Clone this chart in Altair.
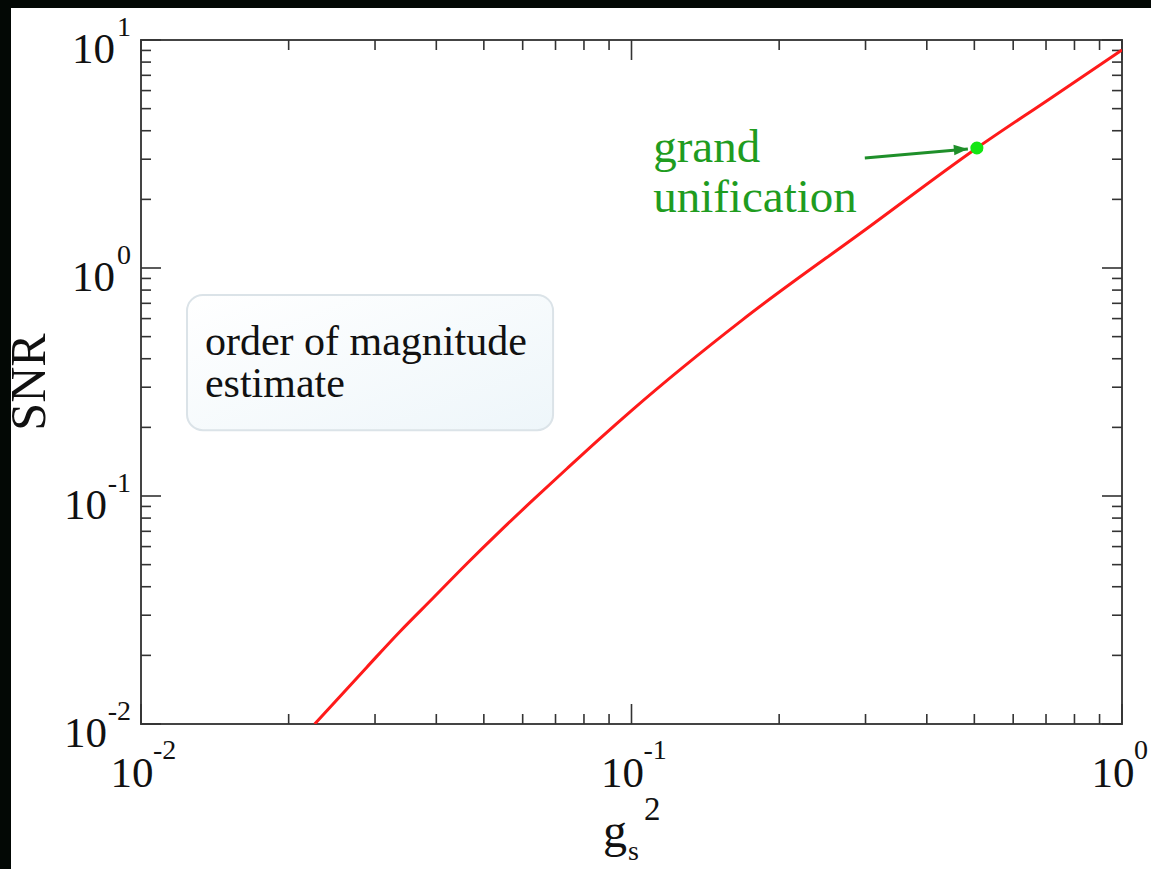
import altair as alt
import pandas as pd

# ---- data ----
g_vals = [0.0226, 0.0289, 0.0337, 0.0394, 0.0462, 0.0539, 0.063, 0.0739, 0.0863,
          0.1, 0.1686, 0.302, 0.506, 0.713, 1.0]
snr_vals = [0.01, 0.0178, 0.0254, 0.0357, 0.0506, 0.070, 0.0961, 0.132, 0.179,
            0.237, 0.594, 1.49, 3.36, 5.53, 9.05]

gut_g = [0.506]
gut_snr = [3.36]

arrow_g = [0.299, 0.485]
arrow_snr = [3.04, 3.33]

gut_label_g = [0.1107]
gut_label_snr = [2.92]
gut_label_text = ["grand\nunification"]

box_g = [0.01241]
box_g2 = [0.0692]
box_snr = [0.762]
box_snr2 = [0.1945]
box_text_g = [0.0135]
box_text_snr = [0.4154]
box_text = ["order of magnitude\nestimate"]

x_major = [0.01, 0.1, 1.0]
x_exp = ["-2", "-1", "0"]
x_minor = [m * d for d in (0.01, 0.1) for m in range(2, 10)]

y_major = [0.01, 0.1, 1.0, 10.0]
y_exp = ["-2", "-1", "0", "1"]
y_minor = [m * d for d in (0.01, 0.1, 1.0) for m in range(2, 10)]

W, H = 981, 684
FONT = "Liberation Serif"
TICK = "#333333"

xs = alt.Scale(type="log", domain=[0.01, 1.0], nice=False)
ys = alt.Scale(type="log", domain=[0.01, 10.0], nice=False)


def X(f):
    return alt.X(f, type="quantitative", scale=xs, axis=None)


def Y(f):
    return alt.Y(f, type="quantitative", scale=ys, axis=None)


curve_df = pd.DataFrame({"g": g_vals, "snr": snr_vals})
gut_df = pd.DataFrame({"g": gut_g, "snr": gut_snr})
arrow_df = pd.DataFrame({"g": arrow_g, "snr": arrow_snr, "o": [0, 1]})
head_df = pd.DataFrame({"g": arrow_g[-1:], "snr": arrow_snr[-1:]})
gl_df = pd.DataFrame({"g": gut_label_g, "snr": gut_label_snr, "t": gut_label_text})
box_df = pd.DataFrame({"g": box_g, "g2": box_g2, "snr": box_snr, "snr2": box_snr2})
bt_df = pd.DataFrame({"g": box_text_g, "snr": box_text_snr, "t": box_text})
xmaj_df = pd.DataFrame({"v": x_major, "exp": x_exp})
xmin_df = pd.DataFrame({"v": x_minor})
ymaj_df = pd.DataFrame({"v": y_major, "exp": y_exp})
ymin_df = pd.DataFrame({"v": y_minor})

layers = []

# decorative dark borders of the screenshot
layers.append(alt.Chart(pd.DataFrame({"a": [0]})).mark_rect(color="#030805").encode(
    x=alt.value(-141), x2=alt.value(-130), y=alt.value(-40), y2=alt.value(H + 145)))
layers.append(alt.Chart(pd.DataFrame({"a": [0]})).mark_rect(color="#030805").encode(
    x=alt.value(-141), x2=alt.value(W + 29), y=alt.value(-40), y2=alt.value(-32)))

# ticks (inward, mirrored)
for df, ln in ((xmaj_df, 20), (xmin_df, 10)):
    layers.append(alt.Chart(df).mark_rule(color=TICK, strokeWidth=1.6).encode(
        x=X("v"), y=alt.value(H - ln), y2=alt.value(H)))
    layers.append(alt.Chart(df).mark_rule(color=TICK, strokeWidth=1.6).encode(
        x=X("v"), y=alt.value(0), y2=alt.value(ln)))
for df, ln in ((ymaj_df, 20), (ymin_df, 10)):
    layers.append(alt.Chart(df).mark_rule(color=TICK, strokeWidth=1.6).encode(
        y=Y("v"), x=alt.value(0), x2=alt.value(ln)))
    layers.append(alt.Chart(df).mark_rule(color=TICK, strokeWidth=1.6).encode(
        y=Y("v"), x=alt.value(W - ln), x2=alt.value(W)))

# tick labels: x
layers.append(alt.Chart(xmaj_df).mark_text(
    font=FONT, fontSize=43, align="center", baseline="alphabetic", dx=-9, color="#111").encode(
    x=X("v"), y=alt.value(H + 63), text=alt.value("10")))
layers.append(alt.Chart(xmaj_df).mark_text(
    font=FONT, fontSize=28, align="left", baseline="alphabetic", dx=12, color="#111").encode(
    x=X("v"), y=alt.value(H + 35), text="exp:N"))

# tick labels: y
layers.append(alt.Chart(ymaj_df).mark_text(
    font=FONT, fontSize=28, align="right", baseline="alphabetic", dy=-4, color="#111").encode(
    y=Y("v"), x=alt.value(-10), text="exp:N"))
layers.append(alt.Chart(ymaj_df).transform_filter("length(datum.exp) == 1").mark_text(
    font=FONT, fontSize=43, align="right", baseline="alphabetic", dy=23, color="#111").encode(
    y=Y("v"), x=alt.value(-10 - 15 - 1), text=alt.value("10")))
layers.append(alt.Chart(ymaj_df).transform_filter("length(datum.exp) == 2").mark_text(
    font=FONT, fontSize=43, align="right", baseline="alphabetic", dy=23, color="#111").encode(
    y=Y("v"), x=alt.value(-10 - 23 - 1), text=alt.value("10")))

# axis titles
one = pd.DataFrame({"a": [0]})
layers.append(alt.Chart(one).mark_text(
    font=FONT, fontSize=50, angle=270, align="center", baseline="middle", color="#111").encode(
    x=alt.value(-111), y=alt.value(H / 2), text=alt.value("SNR")))
layers.append(alt.Chart(one).mark_text(
    font=FONT, fontSize=48, align="left", baseline="alphabetic", color="#111").encode(
    x=alt.value(462), y=alt.value(H + 123), text=alt.value("g")))
layers.append(alt.Chart(one).mark_text(
    font=FONT, fontSize=28, align="left", baseline="alphabetic", color="#111").encode(
    x=alt.value(487), y=alt.value(H + 136), text=alt.value("s")))
layers.append(alt.Chart(one).mark_text(
    font=FONT, fontSize=33, align="left", baseline="alphabetic", color="#111").encode(
    x=alt.value(503), y=alt.value(H + 96), text=alt.value("2")))

# annotation box
layers.append(alt.Chart(box_df).mark_rect(
    cornerRadius=16, stroke="#dbe3e8", strokeWidth=2,
    color=alt.Gradient(gradient="linear",
                       stops=[alt.GradientStop(color="#ffffff", offset=0),
                              alt.GradientStop(color="#eef6fa", offset=1)],
                       x1=0, x2=1, y1=0, y2=1)).encode(
    x=X("g"), x2="g2", y=Y("snr"), y2="snr2"))
layers.append(alt.Chart(bt_df).mark_text(
    font=FONT, fontSize=42, align="left", baseline="alphabetic", lineBreak="\n",
    lineHeight=42, color="#111").encode(x=X("g"), y=Y("snr"), text="t:N"))

# curve
layers.append(alt.Chart(curve_df).mark_line(
    color="#ff1a1a", strokeWidth=3, interpolate="monotone", clip=True).encode(
    x=X("g"), y=Y("snr")))

# grand unification annotation
layers.append(alt.Chart(gl_df).mark_text(
    font=FONT, fontSize=47, align="left", baseline="alphabetic", lineBreak="\n",
    lineHeight=50, color="#1f9c1f").encode(x=X("g"), y=Y("snr"), text="t:N"))
layers.append(alt.Chart(arrow_df).mark_line(color="#1f8f2a", strokeWidth=3).encode(
    x=X("g"), y=Y("snr"), order="o:O"))
layers.append(alt.Chart(head_df).mark_point(
    shape="M-2,-0.75L0,0L-2,0.75Z", filled=True, size=196, angle=355, opacity=1,
    color="#1f8f2a").encode(x=X("g"), y=Y("snr")))
layers.append(alt.Chart(gut_df).mark_circle(size=170, opacity=1, color="#14e614").encode(
    x=X("g"), y=Y("snr")))

chart = alt.layer(*layers).properties(
    width=W, height=H,
    padding={"left": 141, "top": 40, "right": 29, "bottom": 145},
    autosize=alt.AutoSizeParams(type="none"),
    background="white",
).configure_view(stroke="#444444", strokeWidth=2)

chart.save("out.html", embed_options={"renderer": "svg", "actions": False})
